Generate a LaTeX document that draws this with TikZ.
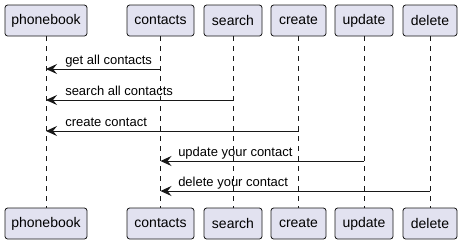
\documentclass[tikz,border=0pt]{standalone}
\usepackage{fontspec}
\setmainfont{Liberation Sans}
\usetikzlibrary{arrows.meta}
\definecolor{partfill}{HTML}{E2E2F0}
\definecolor{partline}{HTML}{181818}

\begin{document}
\begin{tikzpicture}
[
x=0.75pt, y=-0.75pt,
part/.style={rectangle, rounded corners=2pt, draw=partline, fill=partfill, line width=0.6pt, minimum height=23.25pt, inner sep=0pt, font=\fontsize{10.5}{12}\selectfont},
life/.style={partline, line width=0.5pt, dash pattern=on 3.75pt off 3.75pt},
msg/.style={partline, line width=0.75pt, -{Stealth[length=8.25pt, width=7.5pt, inset=3pt]}},
lbl/.style={anchor=base west, inner sep=0pt, font=\fontsize{9.75}{11}\selectfont},
]
%
\useasboundingbox [fill=white] (0,0) rectangle (461,244);

% participants, top row
\node [part, minimum width=61.5pt]  (pb1)  at ( 46.0, 20.5)  {phonebook};
\node [part, minimum width=50.25pt] (ct1)  at (160.5, 20.5)  {contacts};
\node [part, minimum width=43.5pt]  (sr1)  at (233.0, 20.5)  {search};
\node [part, minimum width=41.25pt] (cr1)  at (298.5, 20.5)  {create};
\node [part, minimum width=43.5pt]  (up1)  at (364.0, 20.5)  {update};
\node [part, minimum width=40.5pt]  (dl1)  at (430.0, 20.5)  {delete};
%
% participants, bottom row
\node [part, minimum width=61.5pt]  (pb2)  at ( 46.0, 223.5) {phonebook};
\node [part, minimum width=50.25pt] (ct2)  at (160.5, 223.5) {contacts};
\node [part, minimum width=43.5pt]  (sr2)  at (233.0, 223.5) {search};
\node [part, minimum width=41.25pt] (cr2)  at (298.5, 223.5) {create};
\node [part, minimum width=43.5pt]  (up2)  at (364.0, 223.5) {update};
\node [part, minimum width=40.5pt]  (dl2)  at (430.0, 223.5) {delete};

% lifelines
\draw [life]  (pb1.south) -- (pb2.north) ;
\draw [life]  (ct1.south) -- (ct2.north) ;
\draw [life]  (sr1.south) -- (sr2.north) ;
\draw [life]  (cr1.south) -- (cr2.north) ;
\draw [life]  (up1.south) -- (up2.north) ;
\draw [life]  (dl1.south) -- (dl2.north) ;

% message rows
\coordinate (y1) at (0, 69);
\coordinate (y2) at (0,100);
\coordinate (y3) at (0,131);
\coordinate (y4) at (0,161);
\coordinate (y5) at (0,191);
%
\draw [msg]  (ct1 |- y1) -- (pb1 |- y1) ;
\draw [msg]  (sr1 |- y2) -- (pb1 |- y2) ;
\draw [msg]  (cr1 |- y3) -- (pb1 |- y3) ;
\draw [msg]  (up1 |- y4) -- (ct1 |- y4) ;
\draw [msg]  (dl1 |- y5) -- (ct1 |- y5) ;
%
\node [lbl]  (l1)  at ( 65, 64)  {get all contacts};
\node [lbl]  (l2)  at ( 65, 95)  {search all contacts};
\node [lbl]  (l3)  at ( 65,126)  {create contact};
\node [lbl]  (l4)  at (178,156)  {update your contact};
\node [lbl]  (l5)  at (178,186)  {delete your contact};

%
\end{tikzpicture}
\end{document}
